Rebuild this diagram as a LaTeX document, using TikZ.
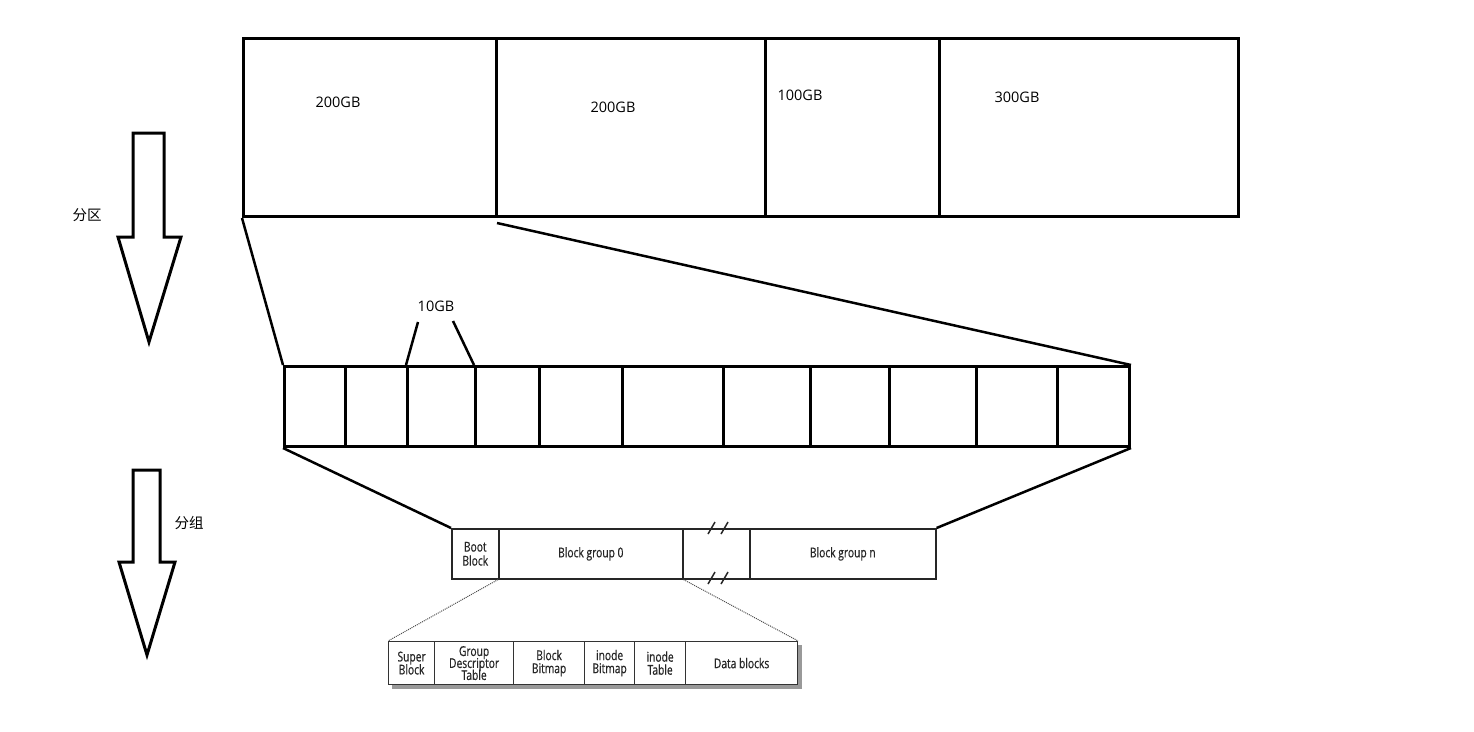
\documentclass[tikz,border=0pt]{standalone}
\usepackage{fontspec}
\setmainfont{Open Sans}
\newfontfamily\cjk{Noto Sans CJK SC}
\newfontfamily\condf[FakeStretch=0.76,FakeBold=0.6]{Open Sans}
\begin{document}
\begin{tikzpicture}[x=1pt,y=-1pt,
  part/.style={draw, line width=3pt, inner sep=0pt, minimum height=178pt, anchor=north west},
  cell/.style={draw, line width=3pt, inner sep=0pt, minimum height=80pt, anchor=north west},
  grp/.style={draw=black!85, line width=1.6pt, inner sep=0pt, minimum height=50pt, anchor=north west,
    font=\condf\fontsize{13.5}{15}\selectfont, text=black!85, align=center},
  sub/.style={draw=black!80, line width=1.2pt, inner sep=0pt, minimum height=43pt, anchor=north west,
    font=\condf\fontsize{13.5}{15}\selectfont, text=black!85, align=center},
  gblabel/.style={font=\fontsize{14.5}{17}\selectfont, inner sep=0pt},
  cjklabel/.style={font=\cjk\fontsize{14.5}{17}\selectfont, inner sep=0pt},
  conn/.style={line width=2.5pt},
  dotconn/.style={line width=1pt, black!70, densely dotted},
  bigarrow/.style={line width=3pt, line join=miter}
]
\useasboundingbox (0,0) rectangle (1474,731);

% top partitions
\node[part, minimum width=253pt] (p1) at (242,37) {};
\node[part, minimum width=269pt] (p2) at (495,37) {};
\node[part, minimum width=174pt] (p3) at (764,37) {};
\node[part, minimum width=299pt] (p4) at (938,37) {};
\node[gblabel] (l1) at (338,102) {200GB};
\node[gblabel] (l2) at (613,107) {200GB};
\node[gblabel] (l3) at (800,95) {100GB};
\node[gblabel] (l4) at (1017,97) {300GB};

% arrows
\draw[bigarrow] (133,133) -- (164,133) -- (164,237) -- (181,237) -- (149,342) -- (118,237) -- (133,237) -- cycle;
\draw[bigarrow] (133,470) -- (160,470) -- (160,562) -- (175,562) -- (147,655) -- (119,562) -- (133,562) -- cycle;
\node[cjklabel] (fq) at (87,215) {分区};
\node[cjklabel] (fz) at (189,523) {分组};

% middle row of cells
\foreach \i/\a/\b in {1/283/344, 2/344/406, 3/406/474, 4/474/538, 5/538/621, 6/621/722, 7/722/809, 8/809/888, 9/888/975, 10/975/1056, 11/1056/1128}{
  \pgfmathsetmacro\w{\b-\a}
  \node[cell, minimum width=\w pt] (c\i) at (\a,365) {};
}

% 10GB label
\node[gblabel] (ten) at (436,306) {10GB};
\coordinate (t1) at (418,322);
\coordinate (t2) at (453,321);
\draw[conn] (t1) -- (c3.north west);
\draw[conn] (t2) -- (c4.north west);

% zoom connectors
\draw[conn] (p1.south west) -- (c1.north west);
\draw[conn] ([shift={(2,5)}]p2.south west) -- (c11.north east);

% block group row
\node[grp, minimum width=47pt] (bb) at (451,528) {Boot\\[-1pt]Block};
\node[grp, minimum width=184pt] (bg0) at (498,528) {Block group 0};
\node[grp, minimum width=67pt] (gap) at (682,528) {};
\node[grp, minimum width=186pt] (bgn) at (749,528) {Block group n};
\foreach \yy in {528,578}{
  \draw[line width=1.5pt, black!85] (708,\yy+6) -- (715,\yy-6);
  \draw[line width=1.5pt, black!85] (721,\yy+6) -- (728,\yy-6);
}
\draw[conn] (c1.south west) -- (bb.north west);
\draw[conn] (c11.south east) -- (bgn.north east);

% detail row
\fill[black!40] (392,645) rectangle (802,689);
\node[sub, fill=white, minimum width=46pt] (sb) at (388,641) {Super\\[-2pt]Block};
\node[sub, fill=white, minimum width=79pt] (gdt) at (434,641) {Group\\[-3pt]Descriptor\\[-3pt]Table};
\node[sub, fill=white, minimum width=71pt] (bbm) at (513,641) {Block\\[-2pt]Bitmap};
\node[sub, fill=white, minimum width=50pt] (ibm) at (584,641) {inode\\[-2pt]Bitmap};
\node[sub, fill=white, minimum width=51pt] (itb) at (634,641) {inode\\[-2pt]Table};
\node[sub, fill=white, minimum width=112pt] (dbk) at (685,641) {Data blocks};

\draw[dotconn] (bg0.south west) -- (sb.north west);
\draw[dotconn] (bg0.south east) -- (dbk.north east);
\end{tikzpicture}
\end{document}
